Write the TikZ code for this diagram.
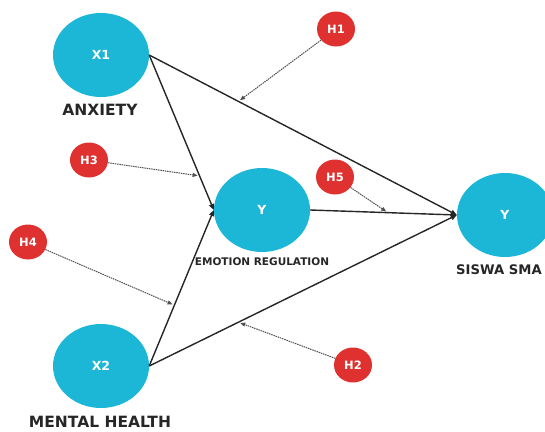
\documentclass[tikz,border=0pt]{standalone}
\usepackage{fontspec}
\setmainfont{DejaVu Sans}
\usetikzlibrary{calc,arrows.meta,shapes.geometric}
\definecolor{varCyan}{RGB}{28,183,214}
\definecolor{hypRed}{RGB}{222,49,48}
\definecolor{pathGray}{RGB}{80,80,80}
\tikzset{
  latent/.style={ellipse, fill=varCyan, text=white, inner sep=0pt,
    minimum width=96pt, minimum height=84pt, font=\bfseries\fontsize{12.5}{13}\selectfont},
  hyp/.style={ellipse, fill=hypRed, text=white, inner sep=0pt,
    minimum width=38pt, minimum height=35pt, font=\bfseries\fontsize{11.5}{12}\selectfont},
  caption/.style={text=black!85, font=\bfseries\fontsize{15.5}{16}\selectfont},
  path/.style={line width=1.4pt, black!85, -{Triangle[length=6pt,width=5pt]}},
  link/.style={line width=1pt, pathGray, dash pattern=on 1.5pt off 0.8pt,
    -{Triangle[length=5pt,width=4pt]}, shorten >=2pt}
}

\begin{document}
\begin{tikzpicture}[x=1pt, y=-1pt]
  \useasboundingbox (0,0) rectangle (545,431);
  \clip (0,0) rectangle (545,431);
  % variables
  \node[latent] (x1) at (101,55) {X1};
  \node[latent] (x2) at (101,366) {X2};
  \node[latent] (emo) at (262,210) {Y};
  \node[latent] (siswa) at (505,215) {Y};
  \node[caption] (anx) at (100,110) {ANXIETY};
  \node[caption] (ment) at (100,422) {MENTAL HEALTH};
  \node[caption, font=\bfseries\fontsize{10.5}{11}\selectfont] (emolab) at (262,262) {EMOTION REGULATION};
  \node[caption, anchor=west, inner sep=0pt, font=\bfseries\fontsize{13.2}{14}\selectfont] (sislab) at (456,270) {SISWA SMA};
  % hypotheses
  \node[hyp] (h1) at (336,29) {H1};
  \node[hyp] (h2) at (353,365) {H2};
  \node[hyp] (h3) at (89,160) {H3};
  \node[hyp] (h4) at (28,242) {H4};
  \node[hyp] (h5) at (335,177) {H5};
  % paths
  \draw[path] (x1.east) -- (siswa.west);
  \draw[path] (x1.east) -- (emo.west);
  \draw[path] (x2.east) -- (emo.west);
  \draw[path] (x2.east) -- (siswa.west);
  \draw[path] (emo.east) -- (siswa.west);
  % where the hypotheses point
  \coordinate (p1) at ($(x1.east)!0.29!(siswa.west)$);
  \coordinate (p2) at ($(x2.east)!0.29!(siswa.west)$);
  \coordinate (p3) at ($(x1.east)!0.78!(emo.west)$);
  \coordinate (p4) at ($(x2.east)!0.39!(emo.west)$);
  \coordinate (p5) at ($(emo.east)!0.53!(siswa.west)$);
  \draw[link] (h1) -- (p1);
  \draw[link] (h2) -- (p2);
  \draw[link] (h3) -- (p3);
  \draw[link] (h4) -- (p4);
  \draw[link] (h5) -- (p5);
\end{tikzpicture}
\end{document}
